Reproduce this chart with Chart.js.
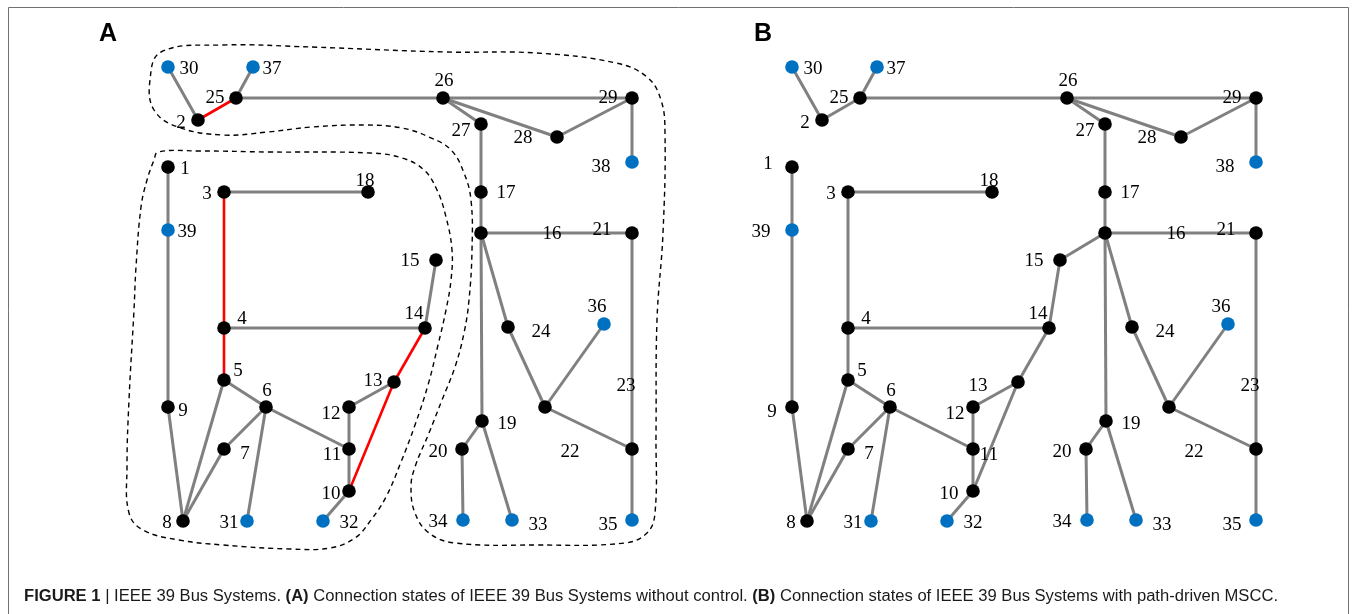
<!DOCTYPE html>
<html>
<head>
<meta charset="utf-8">
<script src="https://cdn.jsdelivr.net/npm/chart.js@4.4.1/dist/chart.umd.min.js"></script>
<style>
  html, body { margin: 0; padding: 0; background: #fff; }
  canvas { display: block; }
</style>
</head>
<body>
<canvas id="bus-chart" width="1356" height="614"></canvas>
<script>
// bus layout of panel A (panel B is the same layout moved right)
var busX = [168,198,224,224,224,266,224,183,168,349,349,349,394,425,436,481,481,368,482,462,632,545,632,508,236,443,481,557,632,168,247,323,512,463,632,604,253,632,168];
var busY = [167,120,192,328,380,407,449,521,407,491,449,407,382,328,260,233,192,192,421,449,233,407,449,327,98,98,124,137,98,67,521,521,520,520,520,324,67,162,230];
var generatorBuses = [30,31,32,33,34,35,36,37,38,39];
var panelShiftB = 624;

// bus number label centres (panel A), and the few that sit elsewhere in panel B
var labelX = [185,181,207,242,238,267,245,167,183,331,332,331,373,414,410,552,506,365,507,438,602,570,626,541,215,444,461,523,608,189,229,349,538,438,608,597,272,601,187];
var labelY = [167,121,192,317,369,389,452,521,409,492,453,412,379,312,259,232,191,179,422,450,228,450,384,330,96,79,129,136,96,67,521,521,523,520,523,305,67,165,230];
var labelMovedB = { 1: [144,162], 39: [137,230], 9: [148,410], 13: [354,384], 11: [365,453], 10: [325,492] };

// lines
var linesKept = [[30,2],[37,25],[25,26],[26,29],[26,27],[26,28],[28,29],[29,38],[27,17],[17,16],[16,21],[16,24],[16,19],
  [24,22],[36,22],[22,23],[21,23],[23,35],[19,20],[19,33],[20,34],[1,39],[39,9],[9,8],[8,5],[8,7],[7,6],[5,6],[6,31],
  [6,11],[11,12],[12,13],[11,10],[10,32],[3,18],[4,14],[14,15]];
var linesOpenA = [[2,25],[3,4],[4,5],[14,13],[13,10]];
var linesAddedB = [[15,16]];

// dashed island outlines in panel A
var islandNorthX = [312,446,536,616,647,661,665,663,657,656,655,647,625,536,455,429,415,411,415,429,442,455,464,469,472,471,464,451,429,402,366,312,268,223,178,154,150,161,223,312];
var islandNorthY = [47,52,53,63,77,100,133,233,320,433,513,533,543,545,543,533,513,487,467,433,400,367,333,300,250,200,173,150,137,128,125,127,132,135,127,110,80,52,45,47];
var islandSouthX = [268,370,402,424,437,446,452,451,446,438,428,415,401,386,371,355,330,290,223,179,143,129,127,129,134,136,141,147,154,158,200,268];
var islandSouthY = [152,153,158,170,190,217,250,280,310,345,385,425,462,497,520,538,548,549,545,540,530,513,467,400,310,267,207,180,160,152,151,152];

function busPoint(bus, shift) {
	return { x: busX[bus - 1] + shift, y: busY[bus - 1] };
}

function lineSets(pairs, shift, colour, width) {
	return pairs.map(function(p) {
		return {
			data: [busPoint(p[0], shift), busPoint(p[1], shift)],
			showLine: true,
			borderColor: colour,
			borderWidth: width,
			pointRadius: 0,
			order: 2
		};
	});
}

function nodeSet(shift, generators) {
	var pts = [];
	for (var b = 1; b <= busX.length; b++) {
		var isGen = generatorBuses.indexOf(b) >= 0;
		if (isGen === generators) pts.push(busPoint(b, shift));
	}
	return {
		data: pts,
		backgroundColor: generators ? '#0070c0' : '#000000',
		borderWidth: 0,
		pointRadius: 6.8,
		pointHoverRadius: 6.8,
		order: 0
	};
}

function outlineSet(xs, ys) {
	return {
		data: xs.map(function(x, i) { return { x: x, y: ys[i] }; }),
		showLine: true,
		borderColor: '#000',
		borderWidth: 1.4,
		borderDash: [5, 4],
		tension: 0.4,
		pointRadius: 0,
		order: 3
	};
}

var datasets = []
	.concat(lineSets(linesKept, 0, '#808080', 3))
	.concat(lineSets(linesOpenA, 0, '#ff0000', 2.6))
	.concat(lineSets(linesKept.concat(linesOpenA, linesAddedB), panelShiftB, '#808080', 3))
	.concat([outlineSet(islandNorthX, islandNorthY), outlineSet(islandSouthX, islandSouthY)])
	.concat([nodeSet(0, false), nodeSet(0, true), nodeSet(panelShiftB, false), nodeSet(panelShiftB, true)]);

var figureText = {
	id: 'figureText',
	beforeDraw: function(chart) {
		var ctx = chart.ctx;
		ctx.save();
		ctx.fillStyle = '#fff';
		ctx.fillRect(0, 0, chart.width, chart.height);
		ctx.strokeStyle = '#707070';
		ctx.lineWidth = 1;
		ctx.beginPath();
		ctx.moveTo(8.5, 614);
		ctx.lineTo(8.5, 7.5);
		ctx.lineTo(1348.5, 7.5);
		ctx.lineTo(1348.5, 614);
		ctx.stroke();
		ctx.restore();
	},
	afterDatasetsDraw: function(chart) {
		var ctx = chart.ctx, sx = chart.scales.x, sy = chart.scales.y;
		ctx.save();
		ctx.fillStyle = '#000';
		ctx.textAlign = 'center';
		ctx.textBaseline = 'alphabetic';
		ctx.font = '19px "Liberation Serif", "Times New Roman", serif';
		[0, panelShiftB].forEach(function(shift) {
			for (var b = 1; b <= busX.length; b++) {
				var lx = labelX[b - 1], ly = labelY[b - 1];
				if (shift && labelMovedB[b]) { lx = labelMovedB[b][0]; ly = labelMovedB[b][1]; }
				ctx.fillText(String(b), sx.getPixelForValue(lx + shift), sy.getPixelForValue(ly) + 6.5);
			}
		});

		// panel letters
		ctx.font = 'bold 25px "Liberation Sans", Arial, sans-serif';
		ctx.fillText('A', 108, 41);
		ctx.fillText('B', 763, 41);

		// caption, squeezed to the condensed width of the original
		var parts = [
			['bold', 'FIGURE 1'], ['', ' | IEEE 39 Bus Systems. '], ['bold', '(A)'],
			['', ' Connection states of IEEE 39 Bus Systems without control. '], ['bold', '(B)'],
			['', ' Connection states of IEEE 39 Bus Systems with path-driven MSCC.']
		];
		var total = 0;
		parts.forEach(function(p) {
			ctx.font = (p[0] ? 'bold ' : '') + '16px "Liberation Sans", Arial, sans-serif';
			p.push(ctx.measureText(p[1]).width);
			total += p[2];
		});
		var squeeze = 1254 / total;
		ctx.translate(24, 601);
		ctx.scale(squeeze, 1);
		ctx.textAlign = 'left';
		ctx.fillStyle = '#1a1a1a';
		var cx = 0;
		parts.forEach(function(p) {
			ctx.font = (p[0] ? 'bold ' : '') + '16px "Liberation Sans", Arial, sans-serif';
			ctx.fillText(p[1], cx, 0);
			cx += p[2];
		});
		ctx.restore();
	}
};

var busChart = new Chart(document.getElementById('bus-chart').getContext('2d'), {
	type: 'scatter',
	data: { datasets: datasets },
	options: {
		responsive: false,
		devicePixelRatio: 1,
		animation: false,
		events: [],
		layout: { padding: 0, autoPadding: false },
		scales: {
			x: { type: 'linear', min: 0, max: 1356, display: false },
			y: { type: 'linear', min: 0, max: 614, reverse: true, display: false }
		},
		plugins: {
			legend: { display: false },
			tooltip: { enabled: false }
		}
	},
	plugins: [figureText]
});
</script>
</body>
</html>
